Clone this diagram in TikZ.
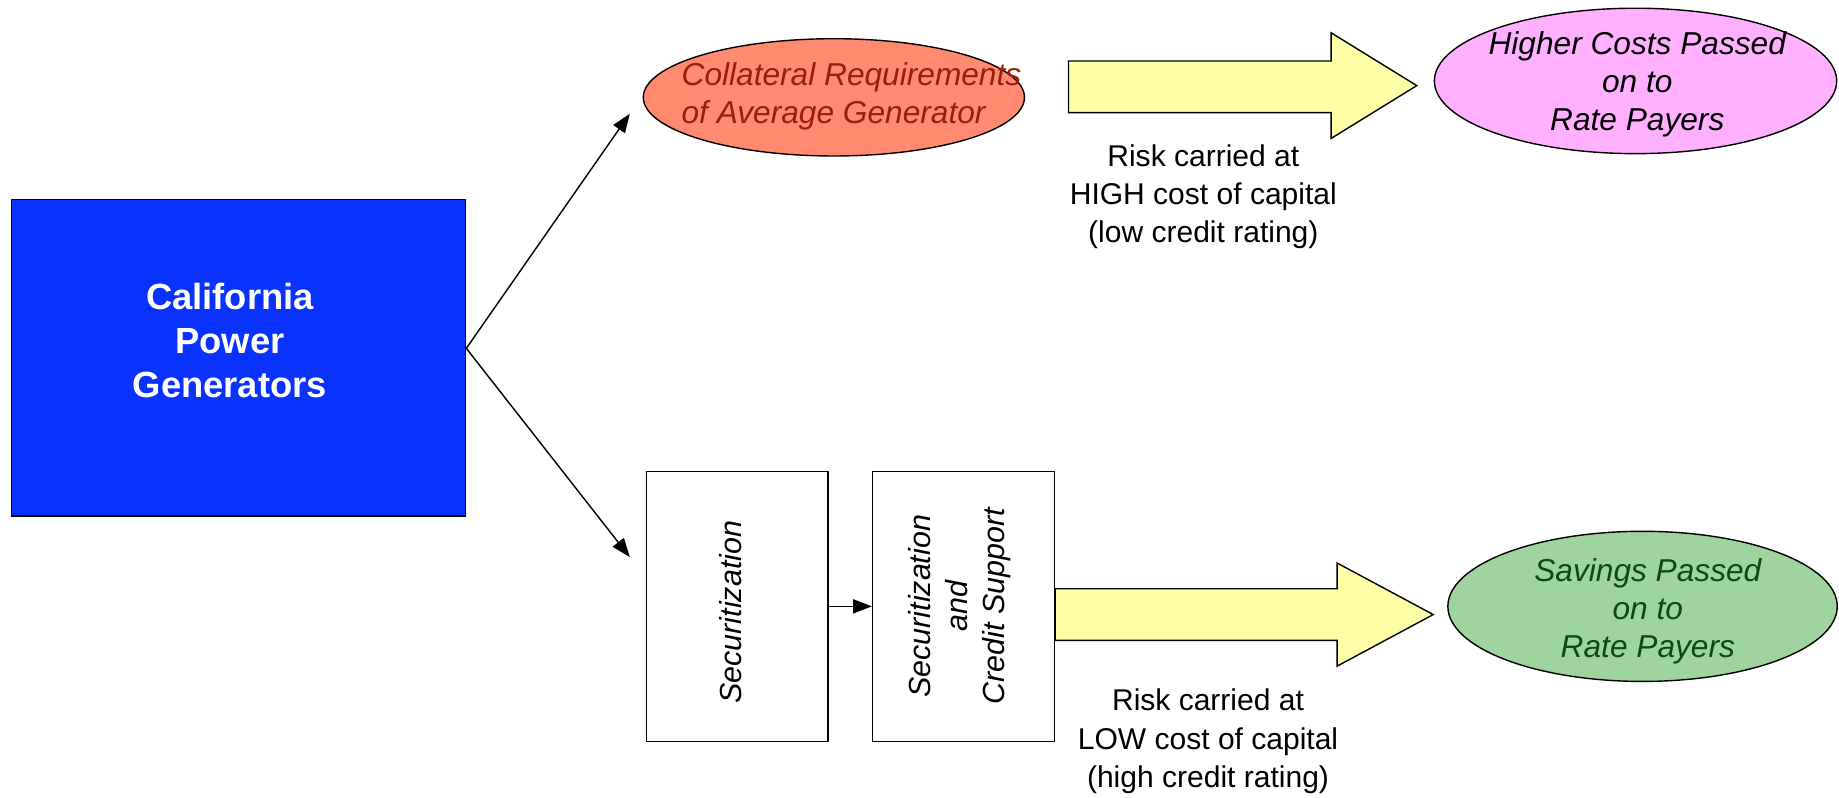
\documentclass[tikz,border=0pt]{standalone}
\usepackage{fontspec}
\setmainfont{Liberation Sans}
\usetikzlibrary{arrows.meta,calc,shapes.geometric}
\definecolor{calblue}{HTML}{0A32FF}
\definecolor{salmonfill}{HTML}{FF8A70}
\definecolor{darkredtxt}{HTML}{9A1E0E}
\definecolor{pinkfill}{HTML}{FFB0FF}
\definecolor{greenfill}{HTML}{A0D49E}
\definecolor{darkgreentxt}{HTML}{0E4A0E}
\definecolor{yellowfill}{HTML}{FFFFA8}
\tikzset{
  oval/.style={ellipse, draw=black, line width=1.2pt, inner sep=0pt},
  ovaltext/.style={font=\fontsize{27}{32.5}\selectfont\itshape, align=center},
  secbox/.style={draw=black, line width=1.2pt, fill=white, minimum width=155pt, minimum height=230pt, inner sep=0pt},
  sectext/.style={font=\fontsize{26}{31.5}\selectfont\itshape, align=center, rotate=90},
  risktext/.style={font=\fontsize{25.6}{32.5}\selectfont, align=center},
  thinarrow/.style={draw=black, line width=1.2pt, -{Triangle[length=16pt,width=12pt]}},
  blockarrow/.style={draw=black, line width=1.2pt, fill=yellowfill, line join=miter}
}
\begin{document}
\begin{tikzpicture}[x=1pt,y=-1pt]
\useasboundingbox (0,0) rectangle (1568,680);
% main box
\node[draw=black, line width=1.2pt, fill=calblue, minimum width=387pt, minimum height=270pt, inner sep=0pt] (cal) at (203.5,305) {};
\node[text=white, font=\fontsize{31}{37.5}\selectfont\bfseries, align=center] (calt) at (196,290) {California\\Power\\Generators};
% ellipses
\node[oval, fill=salmonfill, minimum width=325pt, minimum height=100pt] (coll) at (711,83) {};
\node[ovaltext, text=darkredtxt, align=left] (collt) at (726,82) {Collateral Requirements\\of Average Generator};
\node[oval, fill=pinkfill, minimum width=343pt, minimum height=124pt] (high) at (1394.5,69) {};
\node[ovaltext, text=black] (hight) at (1396,72) {Higher Costs Passed\\on to\\Rate Payers};
\node[oval, fill=greenfill, minimum width=332pt, minimum height=128pt] (sav) at (1400.5,517) {};
\node[ovaltext, text=darkgreentxt] (savt) at (1405,521) {Savings Passed\\on to\\Rate Payers};
% securitization boxes
\node[secbox] (sec1) at (628.5,517) {};
\node[sectext] (sec1t) at (623,522) {Securitization};
\node[secbox] (sec2) at (821.5,517) {};
\node[sectext] (sec2t) at (818,517) {Securitization\\and\\Credit Support};
% thin arrows
\coordinate (split) at ($(cal.east)+(0,-8)$);
\coordinate (topend) at (537,97);
\coordinate (botend) at (537,475);
\draw[thinarrow] (split) -- (topend);
\draw[thinarrow] (split) -- (botend);
\draw[thinarrow] (sec1.east) -- (sec2.west);
% block arrows
\draw[blockarrow] (911,52) -- (1135,52) -- (1135,28) -- (1208,73) -- (1135,118) -- (1135,96) -- (911,96) -- cycle;
\draw[blockarrow] (sec2.east |- 0,502) -- (1140,502) -- (1140,480) -- (1222,524) -- (1140,568) -- (1140,546) -- (sec2.east |- 0,546) -- cycle;
% risk labels
\node[risktext] (risk1) at (1026,168) {Risk carried at\\HIGH cost of capital\\(low credit rating)};
\node[risktext] (risk2) at (1030,632) {Risk carried at\\LOW cost of capital\\(high credit rating)};
\end{tikzpicture}
\end{document}
